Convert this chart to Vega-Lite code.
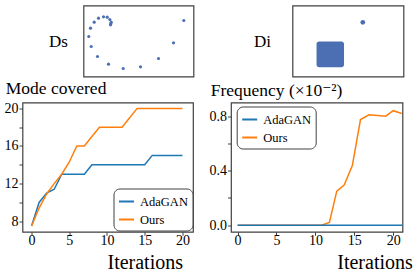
{
  "$schema": "https://vega.github.io/schema/vega-lite/v6.json",
  "background": "white",
  "padding": {"left": 2.5, "top": 4.5, "right": 0, "bottom": 0},
  "config": {
    "font": "Liberation Serif, Times New Roman, DejaVu Serif, serif",
    "view": {"stroke": "#404040", "strokeWidth": 1.2},
    "axis": {
      "labelFont": "Liberation Serif, Times New Roman, DejaVu Serif, serif", "titleFont": "Liberation Serif, Times New Roman, DejaVu Serif, serif",
      "labelColor": "black", "titleColor": "black", "titleFontWeight": "normal",
      "grid": false, "domain": false, "tickColor": "#404040", "tickSize": 3.5, "tickWidth": 1,
      "labelFontSize": 14, "labelPadding": 1
    },
    "axisX": {"labelPadding": -1.5},
    "legend": {
      "strokeColor": "#404040", "cornerRadius": 6, "padding": 4.5, "fillColor": "white",
      "labelFont": "Liberation Serif, Times New Roman, DejaVu Serif, serif", "labelFontSize": 12.5, "labelColor": "black",
      "symbolType": "stroke", "symbolStrokeWidth": 2, "symbolSize": 225,
      "rowPadding": 3, "labelOffset": 5
    },
    "title": {"font": "Liberation Serif, Times New Roman, DejaVu Serif, serif", "fontWeight": "normal", "fontSize": 17.5, "anchor": "start", "frame": "group", "baseline": "alphabetic", "color": "black"}
  },
  "datasets": {
    "ds": [
      {"x": 10.7, "y": 54.3}, {"x": 15.0, "y": 58.3}, {"x": 20.0, "y": 59.7}, {"x": 23.7, "y": 59.3},
      {"x": 26.3, "y": 57.0}, {"x": 27.7, "y": 54.3}, {"x": 27.3, "y": 52.7}, {"x": 27.0, "y": 51.7},
      {"x": 7.0, "y": 48.3}, {"x": 5.3, "y": 40.0}, {"x": 7.7, "y": 30.0}, {"x": 14.0, "y": 20.0},
      {"x": 25.0, "y": 12.3}, {"x": 39.7, "y": 8.0}, {"x": 57.0, "y": 9.7}, {"x": 75.0, "y": 18.0},
      {"x": 90.0, "y": 33.7}, {"x": 100.3, "y": 56.0}
    ],
    "di_cluster": [{"x": 26, "x2": 55.7, "y": 10.3, "y2": 39.3}],
    "di_mode": [{"x": 76, "y": 61}],
    "mode": [
      {"iter": 0, "modes": 7.5, "method": "AdaGAN"}, {"iter": 1, "modes": 10, "method": "AdaGAN"},
      {"iter": 2, "modes": 11, "method": "AdaGAN"}, {"iter": 3, "modes": 11.4, "method": "AdaGAN"},
      {"iter": 4, "modes": 13, "method": "AdaGAN"}, {"iter": 5, "modes": 13, "method": "AdaGAN"},
      {"iter": 6, "modes": 13, "method": "AdaGAN"}, {"iter": 7, "modes": 13, "method": "AdaGAN"},
      {"iter": 8, "modes": 14, "method": "AdaGAN"}, {"iter": 9, "modes": 14, "method": "AdaGAN"},
      {"iter": 10, "modes": 14, "method": "AdaGAN"}, {"iter": 11, "modes": 14, "method": "AdaGAN"},
      {"iter": 12, "modes": 14, "method": "AdaGAN"}, {"iter": 13, "modes": 14, "method": "AdaGAN"},
      {"iter": 14, "modes": 14, "method": "AdaGAN"}, {"iter": 15, "modes": 14, "method": "AdaGAN"},
      {"iter": 16, "modes": 15, "method": "AdaGAN"}, {"iter": 17, "modes": 15, "method": "AdaGAN"},
      {"iter": 18, "modes": 15, "method": "AdaGAN"}, {"iter": 19, "modes": 15, "method": "AdaGAN"},
      {"iter": 20, "modes": 15, "method": "AdaGAN"},
      {"iter": 0, "modes": 7.5, "method": "Ours"}, {"iter": 1, "modes": 9.4, "method": "Ours"},
      {"iter": 2, "modes": 10.9, "method": "Ours"}, {"iter": 3, "modes": 12, "method": "Ours"},
      {"iter": 4, "modes": 13, "method": "Ours"}, {"iter": 5, "modes": 14.3, "method": "Ours"},
      {"iter": 6, "modes": 16, "method": "Ours"}, {"iter": 7, "modes": 16, "method": "Ours"},
      {"iter": 8, "modes": 17, "method": "Ours"}, {"iter": 9, "modes": 18, "method": "Ours"},
      {"iter": 10, "modes": 18, "method": "Ours"}, {"iter": 11, "modes": 18, "method": "Ours"},
      {"iter": 12, "modes": 18, "method": "Ours"}, {"iter": 13, "modes": 19, "method": "Ours"},
      {"iter": 14, "modes": 20, "method": "Ours"}, {"iter": 15, "modes": 20, "method": "Ours"},
      {"iter": 16, "modes": 20, "method": "Ours"}, {"iter": 17, "modes": 20, "method": "Ours"},
      {"iter": 18, "modes": 20, "method": "Ours"}, {"iter": 19, "modes": 20, "method": "Ours"},
      {"iter": 20, "modes": 20, "method": "Ours"}
    ],
    "freq": [
      {"iter": 0, "freq": 0, "method": "AdaGAN"}, {"iter": 1, "freq": 0, "method": "AdaGAN"},
      {"iter": 2, "freq": 0, "method": "AdaGAN"}, {"iter": 3, "freq": 0, "method": "AdaGAN"},
      {"iter": 4, "freq": 0, "method": "AdaGAN"}, {"iter": 5, "freq": 0, "method": "AdaGAN"},
      {"iter": 6, "freq": 0, "method": "AdaGAN"}, {"iter": 7, "freq": 0, "method": "AdaGAN"},
      {"iter": 8, "freq": 0, "method": "AdaGAN"}, {"iter": 9, "freq": 0, "method": "AdaGAN"},
      {"iter": 10, "freq": 0, "method": "AdaGAN"}, {"iter": 11, "freq": 0, "method": "AdaGAN"},
      {"iter": 12, "freq": 0, "method": "AdaGAN"}, {"iter": 13, "freq": 0, "method": "AdaGAN"},
      {"iter": 14, "freq": 0, "method": "AdaGAN"}, {"iter": 15, "freq": 0, "method": "AdaGAN"},
      {"iter": 16, "freq": 0, "method": "AdaGAN"}, {"iter": 17, "freq": 0, "method": "AdaGAN"},
      {"iter": 18, "freq": 0, "method": "AdaGAN"}, {"iter": 19, "freq": 0, "method": "AdaGAN"},
      {"iter": 20, "freq": 0, "method": "AdaGAN"}, {"iter": 21, "freq": 0, "method": "AdaGAN"},
      {"iter": 22, "freq": 0, "method": "AdaGAN"},
      {"iter": 0, "freq": 0, "method": "Ours"}, {"iter": 5, "freq": 0, "method": "Ours"},
      {"iter": 10.8, "freq": 0, "method": "Ours"}, {"iter": 11.8, "freq": 0.02, "method": "Ours"},
      {"iter": 12.75, "freq": 0.25, "method": "Ours"}, {"iter": 13.7, "freq": 0.295, "method": "Ours"},
      {"iter": 14.75, "freq": 0.437, "method": "Ours"}, {"iter": 15.8, "freq": 0.775, "method": "Ours"},
      {"iter": 16.9, "freq": 0.81, "method": "Ours"}, {"iter": 18, "freq": 0.805, "method": "Ours"},
      {"iter": 19.05, "freq": 0.8, "method": "Ours"}, {"iter": 20, "freq": 0.84, "method": "Ours"},
      {"iter": 21.1, "freq": 0.82, "method": "Ours"}
    ]
  },
  "spacing": 2,
  "vconcat": [
    {
      "bounds": "flush",
      "spacing": 0,
      "hconcat": [
        {"width": 61, "height": 71, "view": {"stroke": null}, "data": {"values": []}, "mark": "point", "encoding": {}},
        {
          "width": 110, "height": 71,
          "data": {"name": "ds"},
          "mark": {"type": "circle", "size": 10, "color": "#4c6fb4", "opacity": 1},
          "encoding": {
            "x": {"field": "x", "type": "quantitative", "scale": {"domain": [0, 110]}, "axis": null},
            "y": {"field": "y", "type": "quantitative", "scale": {"domain": [0, 71]},
                  "axis": {"title": "Ds", "titleAngle": 0, "titleAlign": "right", "titleBaseline": "middle",
                           "titleFontSize": 17, "titlePadding": 16, "labels": false, "ticks": false}}
          }
        },
        {"width": 98.3, "height": 71, "view": {"stroke": null}, "data": {"values": []}, "mark": "point", "encoding": {}},
        {
          "width": 111, "height": 71,
          "layer": [
            {
              "data": {"name": "di_cluster"},
              "mark": {"type": "rect", "color": "#4c6fb4", "cornerRadius": 2.5},
              "encoding": {
                "x": {"field": "x", "type": "quantitative", "scale": {"domain": [0, 111]}, "axis": null},
                "x2": {"field": "x2"},
                "y": {"field": "y", "type": "quantitative", "scale": {"domain": [0, 71]},
                      "axis": {"title": "Di", "titleAngle": 0, "titleAlign": "right", "titleBaseline": "middle",
                               "titleFontSize": 17, "titlePadding": 22, "labels": false, "ticks": false}},
                "y2": {"field": "y2"}
              }
            },
            {
              "data": {"name": "di_mode"},
              "mark": {"type": "circle", "size": 22, "color": "#4c6fb4", "opacity": 1},
              "encoding": {
                "x": {"field": "x", "type": "quantitative"},
                "y": {"field": "y", "type": "quantitative"}
              }
            }
          ]
        }
      ]
    },
    {
      "bounds": "flush",
      "spacing": 37.5,
      "resolve": {"scale": {"color": "independent"}, "legend": {"color": "independent"}},
      "hconcat": [
        {
          "width": 170.5, "height": 129.3,
          "title": {"text": "Mode covered", "dx": -16.7, "offset": 3.5},
          "data": {"name": "mode"},
          "encoding": {
            "x": {"field": "iter", "type": "quantitative", "scale": {"domain": [-1.2, 21.4], "nice": false, "zero": false},
                  "axis": {"values": [0, 5, 10, 15, 20], "title": "Iterations", "titleFontSize": 20,
                           "titleX": 160, "titleY": 37, "titleAlign": "right", "titleBaseline": "alphabetic"}},
            "y": {"field": "modes", "type": "quantitative", "scale": {"domain": [6.875, 20.625], "nice": false, "zero": false},
                  "axis": {"values": [8, 10, 12, 14, 16, 18, 20], "title": null,
                           "labelExpr": "datum.value % 4 == 0 ? datum.label : ''"}},
            "color": {"field": "method", "type": "nominal",
                      "scale": {"domain": ["AdaGAN", "Ours"], "range": ["#1f77b4", "#ff7f0e"]},
                      "legend": {"title": null, "orient": "none", "legendX": 91, "legendY": 86}}
          },
          "layer": [
            {"transform": [{"filter": "datum.method == 'AdaGAN'"}], "mark": {"type": "line", "strokeWidth": 1.5}},
            {"transform": [{"filter": "datum.method == 'Ours'"}], "mark": {"type": "line", "strokeWidth": 1.5}}
          ]
        },
        {
          "width": 171.5, "height": 129.3,
          "title": {"text": "Frequency (×10⁻²)", "dx": -20.3, "offset": 3.5},
          "data": {"name": "freq"},
          "encoding": {
            "x": {"field": "iter", "type": "quantitative", "scale": {"domain": [-0.85, 21.2], "nice": false, "zero": false},
                  "axis": {"values": [0, 5, 10, 15, 20], "title": "Iterations", "titleFontSize": 20,
                           "titleX": 181.3, "titleY": 37, "titleAlign": "right", "titleBaseline": "alphabetic"}},
            "y": {"field": "freq", "type": "quantitative", "scale": {"domain": [-0.048, 0.9], "nice": false, "zero": false},
                  "axis": {"values": [0, 0.2, 0.4, 0.6, 0.8], "title": null, "format": ".1f",
                           "labelExpr": "(round(datum.value * 10) % 4 == 0) ? datum.label : ''"}},
            "color": {"field": "method", "type": "nominal",
                      "scale": {"domain": ["AdaGAN", "Ours"], "range": ["#1f77b4", "#ff7f0e"]},
                      "legend": {"title": null, "orient": "none", "legendX": 5.7, "legendY": 4}}
          },
          "layer": [
            {"transform": [{"filter": "datum.method == 'Ours'"}], "mark": {"type": "line", "strokeWidth": 1.5, "clip": true}},
            {"transform": [{"filter": "datum.method == 'AdaGAN'"}], "mark": {"type": "line", "strokeWidth": 1.5, "clip": true}}
          ]
        }
      ]
    }
  ]
}
